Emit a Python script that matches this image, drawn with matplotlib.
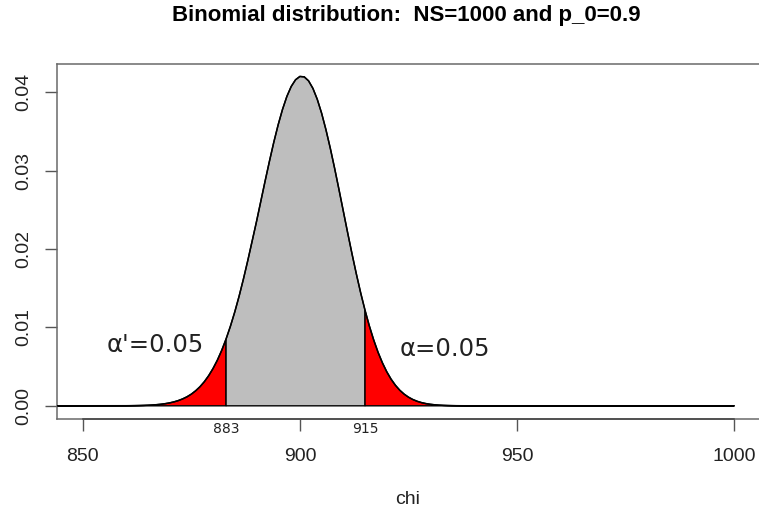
import matplotlib
matplotlib.use("Agg")
import matplotlib.pyplot as plt
import matplotlib.transforms as mtransforms

# ---- data (binomial pmf, NS=1000, p_0=0.9) ----
chi = list(range(860, 941))
pmf = [
    0.0000121, 0.0000178, 0.0000258, 0.0000371, 0.0000530, 0.0000749, 0.000105, 0.000146,
    0.000202, 0.000276, 0.000373, 0.000502, 0.000668, 0.000882, 0.00115, 0.00149,
    0.00192, 0.00244, 0.00308, 0.00385, 0.00476, 0.00583, 0.00708, 0.00852,
    0.01015, 0.01197, 0.01398, 0.01618, 0.01853, 0.02100, 0.02348, 0.02609,
    0.02870, 0.03123, 0.03365, 0.03586, 0.03782, 0.03947, 0.04074, 0.04160,
    0.04202,
    0.04197, 0.04146, 0.04050, 0.03911, 0.03734, 0.03523, 0.03287, 0.03030,
    0.02760, 0.02484, 0.02208, 0.01940, 0.01683, 0.01441, 0.01219, 0.01018,
    0.00840, 0.00683, 0.00549, 0.00435, 0.00340, 0.00262, 0.00199, 0.001495,
    0.001105, 0.000806, 0.000579, 0.000410, 0.000286, 0.000197, 0.000133, 0.0000885,
    0.0000580, 0.0000375, 0.0000238, 0.0000149, 0.0000092, 0.0000055, 0.0000033, 0.0000019,
]
chi_tail_lo, pmf_tail_lo = 840, 0.0
chi_tail_hi, pmf_tail_hi = 1000, 0.0
lower_crit = 883
upper_crit = 915
alpha_lo_label = "α'=0.05"
alpha_hi_label = "α=0.05"
alpha_lo_pos = (866.6, 0.0069)
alpha_hi_pos = (933.5, 0.00635)
xticks = [850, 900, 950, 1000]
yticks = [0.00, 0.01, 0.02, 0.03, 0.04]
title = "Binomial distribution:  NS=1000 and p_0=0.9"
xlabel = "chi"

# ---- figure ----
W, H = 759, 516
fig = plt.figure(figsize=(W / 100, H / 100), dpi=100)
ax_left, ax_right, ax_top, ax_bottom = 56.7, 760.2, 64.0, 419.3
ax = fig.add_axes([ax_left / W, (H - ax_bottom) / H,
                   (ax_right - ax_left) / W, (ax_bottom - ax_top) / H])

xs = [chi_tail_lo] + chi + [chi_tail_hi]
ys = [pmf_tail_lo] + pmf + [pmf_tail_hi]

def region(lo, hi):
    px = [x for x in xs if lo <= x <= hi]
    py = [y for x, y in zip(xs, ys) if lo <= x <= hi]
    return [px[0]] + px + [px[-1]], [0.0] + py + [0.0]

for (lo, hi), col in [((chi_tail_lo, lower_crit), "#ff0000"),
                      ((lower_crit, upper_crit), "#bebebe"),
                      ((upper_crit, chi_tail_hi), "#ff0000")]:
    rx, ry = region(lo, hi)
    ax.fill(rx, ry, facecolor=col, edgecolor="black", linewidth=1.0, zorder=2)

ax.plot(xs, ys, color="black", linewidth=1.1, zorder=3)

ax.set_xlim(844.0, 1006.0)
ax.set_ylim(-0.00172, 0.04361)

for s in ax.spines.values():
    s.set_color("#6a6a6a")
    s.set_linewidth(1.1)

trans = mtransforms.blended_transform_factory(ax.transData, ax.transAxes)
ax.plot([xticks[0], xticks[-1]], [0, 0], transform=trans, color="#444444",
        linewidth=1.1, clip_on=False, zorder=5)

ax.set_xticks(xticks)
ax.set_xticklabels([str(t) for t in xticks], fontsize=14, family="Liberation Sans")
ax.set_yticks(yticks)
ax.set_yticklabels([f"{t:.2f}" for t in yticks], fontsize=14, family="Liberation Sans",
                   rotation=90, va="center")
ax.tick_params(axis="both", direction="out", length=8.6, width=1.0, color="#555555",
               labelcolor="#222222")
ax.tick_params(axis="x", pad=12)
ax.tick_params(axis="y", pad=9)

for c in (lower_crit, upper_crit):
    ax.annotate(str(c), xy=(c, 0), xycoords=trans, xytext=(0, -9.65),
                textcoords="offset points", ha="center", va="baseline",
                fontsize=10, family="DejaVu Sans", color="#222222", annotation_clip=False)

ax.text(alpha_lo_pos[0], alpha_lo_pos[1], alpha_lo_label, fontsize=17.5,
        family="DejaVu Sans", ha="center", va="baseline", color="#222222")
ax.text(alpha_hi_pos[0], alpha_hi_pos[1], alpha_hi_label, fontsize=17.5,
        family="DejaVu Sans", ha="center", va="baseline", color="#222222")

fig.text(406 / W, 1 - 15 / H, title, fontsize=16, fontweight="bold",
         family="Liberation Sans", ha="center", va="center")
fig.text(408 / W, 1 - 500 / H, xlabel, fontsize=14, family="Liberation Sans",
         ha="center", va="center", color="#222222")

fig.savefig("out.png", dpi=100)
